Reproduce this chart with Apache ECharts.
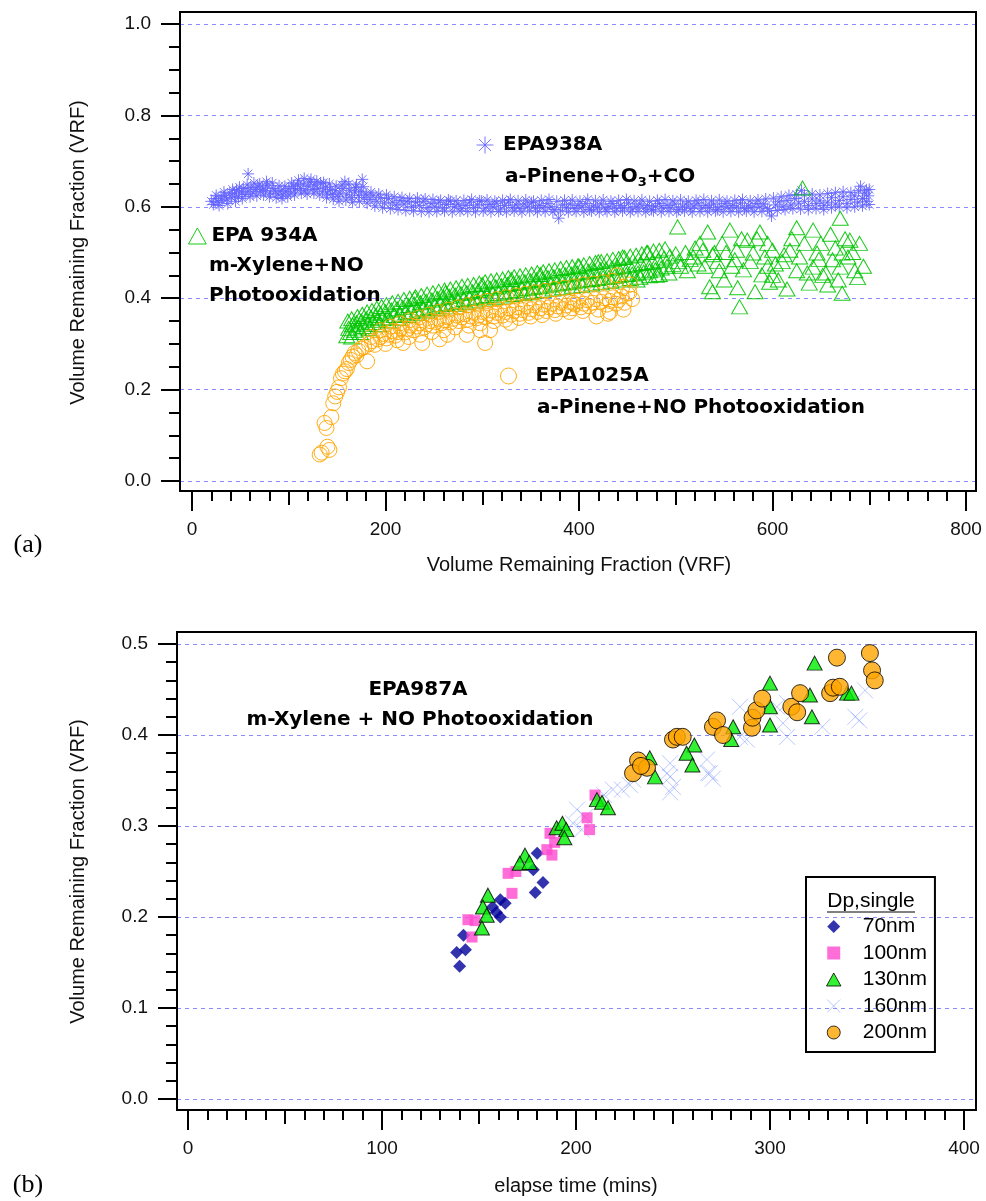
<!DOCTYPE html>
<html>
<head>
<meta charset="utf-8">
<script src="https://cdn.jsdelivr.net/npm/echarts@6/dist/echarts.min.js"></script>
<style>
  html, body { margin: 0; padding: 0; background: #fff; }
  #chart { width: 986px; height: 1201px; }
</style>
</head>
<body>
<div id="chart"></div>
<script>
// ---------------- Panel (a): volume remaining fraction, three experiments ----------------
const xTicksA = [0, 200, 400, 600, 800];
const yTicksA = [0.0, 0.2, 0.4, 0.6, 0.8, 1.0];

// EPA938A  a-Pinene + O3 + CO
const epa938a = [
  [20,0.612],[22,0.605],[24,0.618],[27,0.610],[30,0.622],[31,0.614],[34,0.625],[36,0.617],[39,0.630],[41,0.620],
  [44,0.628],[46,0.636],[48,0.622],[51,0.632],[53,0.640],[55,0.627],[58,0.672],[58,0.634],[61,0.642],[63,0.630],
  [66,0.638],[68,0.645],[71,0.633],[73,0.641],[76,0.636],[78,0.647],[81,0.630],[84,0.640],[86,0.634],[89,0.628],
  [92,0.636],[94,0.626],[97,0.633],[100,0.640],[102,0.630],[105,0.645],[107,0.637],[110,0.658],[112,0.640],[115,0.650],
  [117,0.635],[120,0.645],[122,0.654],[125,0.638],[127,0.648],[130,0.640],[133,0.652],[135,0.634],[138,0.643],[140,0.630],
  [143,0.638],[145,0.627],[148,0.635],[151,0.622],[153,0.630],[156,0.640],[158,0.655],[160,0.626],[163,0.636],[165,0.620],
  [168,0.632],[170,0.648],[172,0.625],[175,0.634],[176,0.660],[178,0.620],[180,0.628],[184,0.616],[187,0.624],[191,0.612],
  [195,0.620],[199,0.608],[203,0.618],[207,0.610],[211,0.604],[215,0.614],[219,0.606],[223,0.612],[227,0.600],[231,0.610],
  [235,0.603],[239,0.612],[243,0.598],[247,0.607],[251,0.600],[255,0.610],[259,0.597],[263,0.605],[267,0.612],[271,0.600],
  [275,0.606],[279,0.596],[283,0.603],[287,0.610],[291,0.598],[295,0.604],[299,0.612],[303,0.597],[307,0.605],[311,0.600],
  [315,0.608],[319,0.595],[323,0.603],[327,0.610],[331,0.598],[335,0.604],[339,0.596],[343,0.606],[347,0.600],[351,0.609],
  [355,0.597],[359,0.603],[363,0.598],[367,0.607],[371,0.600],[375,0.594],[379,0.575],[383,0.604],[387,0.598],[391,0.606],
  [395,0.596],[399,0.603],[403,0.599],[407,0.607],[411,0.594],[415,0.602],[419,0.598],[423,0.606],[427,0.595],[431,0.600],
  [435,0.607],[439,0.596],[443,0.603],[447,0.598],[451,0.608],[455,0.595],[459,0.600],[463,0.606],[467,0.597],[471,0.603],
  [475,0.594],[479,0.601],[483,0.607],[487,0.597],[491,0.603],[495,0.598],[499,0.606],[503,0.594],[507,0.600],[511,0.606],
  [515,0.596],[519,0.602],[523,0.608],[527,0.597],[531,0.603],[535,0.598],[539,0.606],[543,0.594],[547,0.601],[551,0.607],
  [555,0.597],[559,0.603],[563,0.599],[567,0.608],[571,0.596],[575,0.602],[579,0.598],[583,0.607],[587,0.600],[591,0.606],
  [595,0.596],[599,0.580],[603,0.604],[607,0.611],[611,0.600],[615,0.614],[619,0.604],[623,0.618],[627,0.608],[630,0.636],
  [633,0.612],[637,0.603],[641,0.617],[645,0.607],[649,0.613],[653,0.603],[657,0.610],[661,0.620],[665,0.606],[669,0.614],
  [673,0.622],[677,0.607],[681,0.616],[685,0.624],[688,0.610],[691,0.645],[693,0.618],[695,0.630],[697,0.612],[699,0.624],[700,0.638],
  [25,0.625],[28,0.603],[33,0.632],[37,0.607],[42,0.638],[45,0.612],[49,0.643],[52,0.618],[57,0.648],[60,0.622],
  [64,0.652],[67,0.624],[70,0.650],[74,0.626],[77,0.655],[80,0.622],[83,0.652],[87,0.620],[90,0.646],[93,0.618],
  [96,0.645],[99,0.622],[103,0.652],[106,0.626],[109,0.648],[113,0.630],[116,0.662],[119,0.628],[123,0.660],[126,0.630],
  [129,0.656],[132,0.626],[136,0.653],[139,0.620],[142,0.650],[146,0.617],[149,0.645],[152,0.612],[155,0.648],[159,0.615],
  [162,0.650],[166,0.610],[169,0.642],[173,0.612],[177,0.644],[181,0.608],[185,0.632],[189,0.602],[193,0.628],[197,0.598],
  [201,0.626],[205,0.596],[209,0.622],[213,0.594],[217,0.620],[221,0.592],[225,0.618],[229,0.591],[233,0.619],[237,0.590],
  [241,0.617],[245,0.589],[249,0.616],[253,0.590],[257,0.614],[261,0.591],[265,0.615],[269,0.589],[273,0.613],[277,0.591],
  [281,0.614],[285,0.590],[289,0.616],[293,0.589],[297,0.613],[301,0.591],[305,0.615],[309,0.589],[313,0.612],[317,0.590],
  [321,0.614],[325,0.589],[329,0.616],[333,0.591],[337,0.613],[341,0.589],[345,0.615],[349,0.591],[353,0.612],[357,0.589],
  [361,0.614],[365,0.590],[369,0.616],[373,0.589],[377,0.612],[381,0.591],[385,0.614],[389,0.589],[393,0.615],[397,0.590],
  [401,0.612],[405,0.589],[409,0.616],[413,0.591],[417,0.613],[421,0.589],[425,0.615],[429,0.590],[433,0.612],[437,0.589],
  [441,0.614],[445,0.591],[449,0.616],[453,0.589],[457,0.613],[461,0.590],[465,0.615],[469,0.589],[473,0.612],[477,0.591],
  [481,0.614],[485,0.589],[489,0.616],[493,0.590],[497,0.613],[501,0.589],[505,0.615],[509,0.591],[513,0.612],[517,0.589],
  [521,0.614],[525,0.590],[529,0.616],[533,0.589],[537,0.613],[541,0.591],[545,0.615],[549,0.589],[553,0.612],[557,0.590],
  [561,0.614],[565,0.589],[569,0.616],[573,0.591],[577,0.613],[581,0.589],[585,0.615],[589,0.590],[593,0.617],[597,0.591],
  [601,0.619],[605,0.592],[609,0.622],[613,0.594],[617,0.625],[621,0.596],[625,0.627],[629,0.595],[633,0.626],[637,0.594],
  [641,0.628],[645,0.596],[649,0.626],[653,0.594],[657,0.629],[661,0.598],[665,0.631],[669,0.600],[673,0.633],[677,0.598],
  [681,0.631],[685,0.600],[689,0.635],[693,0.602],[697,0.637],[700,0.605]
];

// EPA 934A  m-Xylene + NO photooxidation
const epa934a = [
  [160,0.318],[162,0.334],[164,0.325],[166,0.342],[168,0.330],[170,0.346],[172,0.335],[175,0.350],[177,0.338],[180,0.355],
  [182,0.343],[185,0.358],[187,0.347],[190,0.362],[192,0.351],[195,0.366],[197,0.355],[200,0.370],[203,0.358],[206,0.374],
  [209,0.362],[212,0.377],[215,0.365],[218,0.380],[221,0.368],[224,0.384],[227,0.371],[230,0.387],[233,0.374],[236,0.390],
  [239,0.377],[242,0.393],[245,0.380],[248,0.396],[251,0.383],[254,0.399],[257,0.386],[260,0.402],[263,0.388],[266,0.404],
  [269,0.391],[272,0.407],[275,0.394],[278,0.410],[281,0.397],[284,0.412],[287,0.399],[290,0.414],[293,0.401],[296,0.417],
  [299,0.404],[302,0.420],[305,0.406],[308,0.422],[311,0.409],[314,0.425],[317,0.410],[320,0.427],[323,0.413],[326,0.430],
  [329,0.415],[332,0.432],[335,0.417],[338,0.434],[341,0.420],[344,0.436],[347,0.421],[350,0.438],[353,0.424],[356,0.440],
  [359,0.425],[362,0.442],[365,0.427],[368,0.445],[371,0.429],[374,0.447],[377,0.431],[380,0.449],[383,0.433],[386,0.451],
  [389,0.434],[392,0.453],[395,0.436],[398,0.455],[401,0.438],[404,0.456],[407,0.440],[410,0.459],[413,0.441],[416,0.460],
  [419,0.443],[422,0.462],[425,0.445],[428,0.464],[431,0.446],[434,0.466],[437,0.448],[440,0.468],[443,0.450],[446,0.470],
  [449,0.452],[452,0.472],[455,0.453],[458,0.474],[461,0.455],[464,0.476],[467,0.457],[470,0.478],[473,0.460],[476,0.480],
  [479,0.462],[482,0.483],[485,0.466],[488,0.488],[491,0.470],[494,0.492],[497,0.474],[500,0.497],
  [230,0.400],[262,0.412],[300,0.430],[330,0.441],[360,0.452],[400,0.470],[420,0.480],[445,0.490],[470,0.500],[460,0.440],
  [480,0.450],[350,0.412],
  [161,0.350],[165,0.355],[171,0.360],[176,0.365],[181,0.370],[186,0.373],[191,0.378],[196,0.382],[201,0.386],[207,0.390],
  [213,0.393],[219,0.397],[225,0.400],[231,0.403],[237,0.406],[243,0.409],[249,0.412],[255,0.415],[261,0.418],[267,0.420],
  [273,0.423],[279,0.426],[285,0.428],[291,0.430],[297,0.433],[303,0.436],[309,0.438],[315,0.440],[321,0.442],[327,0.445],
  [333,0.447],[339,0.449],[345,0.451],[351,0.453],[357,0.456],[363,0.458],[369,0.460],[375,0.462],[381,0.465],[387,0.467],
  [393,0.469],[399,0.471],[405,0.473],[411,0.476],[417,0.478],[423,0.480],[429,0.482],[435,0.485],[441,0.487],[447,0.489],
  [453,0.492],[459,0.494],[465,0.497],[471,0.500],[477,0.503],[483,0.505],[489,0.508],
  [165,0.315],[174,0.325],[183,0.333],[193,0.342],[203,0.350],[213,0.356],[223,0.362],[233,0.367],[243,0.372],[253,0.377],
  [263,0.381],[273,0.386],[283,0.390],[293,0.394],[303,0.398],[313,0.401],[323,0.405],[333,0.408],[343,0.411],[353,0.414],
  [363,0.417],[373,0.420],[383,0.423],[393,0.426],[403,0.428],[413,0.431],[423,0.434],[433,0.437],[443,0.440],[453,0.443],
  [463,0.446],[473,0.449],[483,0.452],[493,0.455],
  [505,0.470],[510,0.500],[515,0.485],[520,0.510],[525,0.520],[502,0.556],[533,0.545],[556,0.549],[574,0.527],[587,0.545],
  [625,0.554],[631,0.641],[670,0.575],[680,0.527],[538,0.495],[561,0.484],[580,0.499],[600,0.505],[618,0.505],[642,0.549],
  [646,0.499],[662,0.484],[672,0.499],[535,0.425],[538,0.414],[564,0.423],[566,0.381],[582,0.414],[570,0.462],[589,0.451],
  [606,0.440],[638,0.433],[657,0.429],[672,0.411],[642,0.468],[670,0.468],[545,0.460],[550,0.440],[595,0.470],[610,0.480],
  [625,0.460],[650,0.520],[660,0.540],[690,0.520],[685,0.460],[655,0.455],[615,0.420],[548,0.520],[530,0.470],[595,0.520],
  [620,0.530],[678,0.490],[665,0.510],[540,0.500],[600,0.450],
  [503,0.480],[512,0.460],[518,0.490],[523,0.475],[528,0.505],[543,0.480],[552,0.500],[558,0.470],[563,0.505],[568,0.530],
  [577,0.480],[584,0.530],[592,0.490],[597,0.435],[603,0.475],[612,0.495],[628,0.490],[633,0.520],[636,0.455],[648,0.485],
  [652,0.450],[668,0.440],[675,0.530],[683,0.500],[688,0.445],[694,0.470]
];

// EPA1025A  a-Pinene + NO photooxidation
const epa1025a = [
  [132,0.058],[134,0.062],[137,0.127],[139,0.116],[140,0.075],[142,0.068],[144,0.140],[146,0.170],[148,0.185],[150,0.195],
  [152,0.205],[154,0.225],[156,0.235],[158,0.240],[160,0.245],[162,0.258],[164,0.265],[166,0.272],[168,0.280],[170,0.275],
  [172,0.285],[175,0.290],[178,0.293],[181,0.262],[183,0.300],[186,0.306],[189,0.298],[192,0.310],[195,0.315],[198,0.322],
  [201,0.312],[204,0.320],[207,0.328],[210,0.318],[213,0.326],[216,0.334],[218,0.302],[220,0.325],[223,0.333],[226,0.340],
  [229,0.330],[232,0.338],[235,0.345],[238,0.302],[240,0.336],[243,0.343],[246,0.350],[249,0.340],[252,0.348],[255,0.355],
  [256,0.310],[258,0.345],[261,0.352],[264,0.320],[264,0.358],[267,0.347],[270,0.355],[273,0.362],[276,0.350],[279,0.358],
  [282,0.365],[284,0.320],[285,0.353],[288,0.360],[291,0.368],[294,0.356],[297,0.363],[298,0.330],[300,0.370],[303,0.302],
  [303,0.358],[306,0.366],[308,0.330],[309,0.373],[312,0.360],[315,0.368],[318,0.375],[321,0.362],[324,0.370],[327,0.378],
  [329,0.346],[330,0.364],[333,0.372],[336,0.380],[339,0.366],[342,0.374],[345,0.382],[348,0.368],[351,0.376],[354,0.384],
  [357,0.370],[360,0.378],[363,0.386],[366,0.372],[369,0.380],[372,0.388],[375,0.374],[378,0.382],[381,0.390],[384,0.376],
  [387,0.384],[390,0.392],[393,0.378],[394,0.390],[396,0.386],[399,0.394],[402,0.380],[405,0.388],[408,0.396],[411,0.382],
  [414,0.390],[417,0.398],[420,0.375],[423,0.392],[426,0.400],[429,0.386],[430,0.366],[432,0.394],[435,0.402],[438,0.388],
  [439,0.450],[441,0.396],[444,0.404],[447,0.390],[450,0.410],[452,0.412],[455,0.398],
  [185,0.315],[195,0.330],[205,0.338],[215,0.345],[225,0.352],[235,0.358],[245,0.364],[255,0.370],[265,0.375],[275,0.380],
  [285,0.385],[295,0.390],[305,0.394],[315,0.398],[325,0.402],[335,0.406],[345,0.410],[355,0.413],[365,0.416],[375,0.420],
  [385,0.423],[395,0.426],[405,0.430],[415,0.432],[425,0.435],[435,0.438],[445,0.425],[453,0.430],
  [200,0.300],[212,0.308],[224,0.315],[236,0.320],[248,0.326],[260,0.330],[272,0.336],[286,0.340],[298,0.345],[312,0.350],
  [324,0.353],[338,0.357],[350,0.360],[362,0.363],[376,0.366],[390,0.370],[404,0.372],[418,0.360],[432,0.370],[446,0.375]
];

// ---------------- Panel (b): EPA987A, volume remaining fraction by particle size ----------------
const xTicksB = [0, 100, 200, 300, 400];
const yTicksB = [0.0, 0.1, 0.2, 0.3, 0.4, 0.5];
const sizeNames = ['70nm', '100nm', '130nm', '160nm', '200nm'];

const dp70 = [[140,0.146],[138.5,0.161],[143,0.164],[142,0.180],[157,0.211],[161,0.219],[163.5,0.215],[161,0.200],
  [159,0.205],[179,0.227],[183,0.238],[178,0.252],[180,0.270]];
const dp100 = [[144.3,0.197],[146.4,0.178],[148,0.196],[165,0.248],[167,0.226],[169,0.250],[185,0.274],[187.6,0.268],
  [186.6,0.292],[189,0.282],[205.7,0.309],[207,0.296],[209.8,0.334]];
const dp130 = [[154.6,0.224],[152,0.211],[154,0.202],[151.5,0.188],[173.7,0.268],[171,0.259],[176,0.260],[190,0.298],
  [193,0.303],[195,0.296],[194,0.287],[210.8,0.329],[213.4,0.326],[216.5,0.320],[238,0.375],[240.7,0.354],[261,0.389],
  [257,0.380],[260,0.367],[281,0.409],[280,0.395],[300,0.457],[300,0.431],[300,0.411],[320.6,0.444],[321.6,0.420],
  [323,0.479],[339.7,0.446],[342,0.446]];
const dp160 = [[198.5,0.303],[200.5,0.318],[203,0.296],[204.6,0.310],[212,0.329],[214.5,0.334],[219,0.340],[223.7,0.340],
  [227.8,0.345],[229.4,0.351],[247,0.358],[248.5,0.369],[248.5,0.337],[248.5,0.354],[250,0.343],[267.5,0.373],[268,0.358],
  [269,0.358],[270.5,0.352],[284.5,0.398],[284.5,0.431],[288,0.395],[303.6,0.431],[306.7,0.413],[308.8,0.398],[308.8,0.435],
  [327,0.409],[346,0.416],[349,0.449],[344,0.420]];
const dp200 = [[232,0.372],[229.4,0.358],[236.6,0.364],[233.5,0.366],[250,0.395],[252,0.398],[255,0.398],[270.6,0.409],
  [272.7,0.416],[275.8,0.400],[290.7,0.408],[291,0.419],[293,0.427],[296,0.440],[311,0.431],[314,0.425],[315.5,0.446],
  [331,0.446],[332.5,0.452],[336,0.453],[334.5,0.485],[351.5,0.490],[352.6,0.471],[354,0.460]];

// ---------------- styling ----------------
const SANS = 'Liberation Sans, Arial, sans-serif';
const BOLD = 'DejaVu Sans, sans-serif';
const BLUE = '#5f5fff', GREEN = '#00c400', ORANGE = '#ffa500';
const ASTER = 'path://M10,0L10,20M0,10L20,10M3,3L17,17M3,17L17,3';
const CROSS = 'path://M0,0L20,20M0,20L20,0';
const DIAMOND = 'path://M10,0L20,10L10,20L0,10Z';
const SQUARE = 'path://M0,0L20,0L20,20L0,20Z';
const TRI = 'path://M10,0L20,18L0,18Z';

// frame rectangles (plot borders) and inner data areas
const frameA = { x: 180, y: 12, w: 796, h: 479 };
const dataA = { x: 192, y: 24, w: 774, h: 457 };
const frameB = { x: 177, y: 632, w: 799, h: 478 };
const dataB = { x: 188, y: 644, w: 776, h: 455 };

const tickLine = { color: '#000', width: 2 };
const gridDash = { color: '#8c8cff', width: 1, type: [4, 4] };
const tickLabel = { fontSize: 19, fontFamily: SANS, color: '#111' };
const titleText = { fontSize: 20, fontFamily: SANS, color: '#111' };
const annoText = { fontFamily: BOLD, fontWeight: 'bold', fontSize: 20, color: '#000' };

function gridOf(r) { return { left: r.x, top: r.y, width: r.w, height: r.h, show: false }; }

// value range of a frame, extended past the data range so grid lines reach the frame edges
function frameRange(frame, data, lo, hi) {
  const perPx = (hi - lo) / data.h;
  return [lo - (frame.y + frame.h - data.y - data.h) * perPx, hi + (data.y - frame.y) * perPx];
}
const fA = frameRange(frameA, dataA, 0, 1);
const fB = frameRange(frameB, dataB, 0, 0.5);
const offXA = (frameA.y + frameA.h) - (dataA.y + dataA.h);
const offXB = (frameB.y + frameB.h) - (dataB.y + dataB.h);

function hiddenX(gi) { return { gridIndex: gi, type: 'value', min: 0, max: 1, show: false }; }
function gridLinesY(gi, r, step) {
  return { gridIndex: gi, type: 'value', min: r[0], max: r[1], minInterval: step, maxInterval: step,
    axisLine: { show: false, onZero: false }, axisTick: { show: false }, axisLabel: { show: false },
    splitLine: { show: true, lineStyle: gridDash } };
}
function xMain(gi, ticks, off, minorSplit, name, gap) {
  return { gridIndex: gi, type: 'value', min: ticks[0], max: ticks[ticks.length - 1], interval: ticks[1] - ticks[0],
    position: 'bottom', offset: off,
    axisLine: { show: false, onZero: false },
    axisTick: { show: true, inside: false, length: 20, lineStyle: tickLine },
    minorTick: { show: true, splitNumber: minorSplit, length: 10, lineStyle: tickLine },
    splitLine: { show: false },
    axisLabel: Object.assign({ margin: 29 }, tickLabel),
    name: name, nameLocation: 'middle', nameGap: gap, nameTextStyle: titleText };
}
function xMid(gi, ticks, off) {
  return { gridIndex: gi, type: 'value', min: ticks[0], max: ticks[ticks.length - 1],
    interval: (ticks[1] - ticks[0]) / 2, position: 'bottom', offset: off,
    axisLine: { show: false, onZero: false },
    axisTick: { show: true, inside: false, length: 14, lineStyle: tickLine },
    axisLabel: { show: false }, splitLine: { show: false } };
}
function yMain(gi, ticks, off, minorSplit, gap) {
  return { gridIndex: gi, type: 'value', min: ticks[0], max: ticks[ticks.length - 1], interval: ticks[1] - ticks[0],
    position: 'left', offset: off,
    axisLine: { show: false, onZero: false },
    axisTick: { show: true, inside: false, length: 19, lineStyle: tickLine },
    minorTick: { show: true, splitNumber: minorSplit, length: 11, lineStyle: tickLine },
    splitLine: { show: false },
    axisLabel: Object.assign({ margin: 29, formatter: v => v.toFixed(1) }, tickLabel),
    name: 'Volume Remaining Fraction (VRF)', nameLocation: 'middle', nameGap: gap, nameTextStyle: titleText };
}

function hollow(color) { return { color: 'transparent', borderColor: color, borderWidth: 1 }; }
const crossStyle = { color: 'transparent', borderColor: 'rgba(110,140,255,0.6)', borderWidth: 1 };

const chart = echarts.init(document.getElementById('chart'), null, { renderer: 'canvas' });

chart.setOption({
  animation: false,
  backgroundColor: '#fff',
  textStyle: { fontFamily: SANS },
  grid: [gridOf(frameA), gridOf(dataA), gridOf(frameB), gridOf(dataB)],
  xAxis: [
    hiddenX(0),
    xMain(1, xTicksA, offXA, 10, 'Volume Remaining Fraction (VRF)', 64),
    xMid(1, xTicksA, offXA),
    hiddenX(2),
    xMain(3, xTicksB, offXB, 10, 'elapse time (mins)', 66),
    xMid(3, xTicksB, offXB)
  ],
  yAxis: [
    gridLinesY(0, fA, yTicksA[1] - yTicksA[0]),
    yMain(1, yTicksA, dataA.x - frameA.x, 4, 92),
    gridLinesY(2, fB, yTicksB[1] - yTicksB[0]),
    yMain(3, yTicksB, dataB.x - frameB.x, 5, 89)
  ],
  legend: [
    { data: [{ name: 'EPA938A', icon: ASTER, itemStyle: hollow(BLUE) }], left: 476, top: 135,
      itemWidth: 26, itemHeight: 17, padding: 0, selectedMode: false, textStyle: annoText },
    { data: [{ name: 'EPA 934A', icon: TRI, itemStyle: hollow(GREEN) }], left: 188, top: 226,
      itemWidth: 18, itemHeight: 16, padding: 0, selectedMode: false, textStyle: annoText },
    { data: [{ name: 'EPA1025A', icon: 'circle', itemStyle: hollow(ORANGE) }], left: 500, top: 366,
      itemWidth: 44, itemHeight: 16, padding: 0, selectedMode: false, textStyle: annoText },
    { data: [
        { name: '70nm', icon: DIAMOND, itemStyle: { color: '#000099', borderWidth: 0 } },
        { name: '100nm', icon: SQUARE, itemStyle: { color: '#ff48d0', borderWidth: 0 } },
        { name: '130nm', icon: TRI, itemStyle: { color: '#00ee00', borderColor: '#000', borderWidth: 1 } },
        { name: '160nm', icon: CROSS, itemStyle: crossStyle },
        { name: '200nm', icon: 'circle', itemStyle: { color: '#ffa500', borderColor: '#000', borderWidth: 1 } }
      ],
      orient: 'vertical', left: 806, top: 877, padding: [39, 8, 9, 20],
      itemWidth: 48, itemHeight: 13, itemGap: 5.5, selectedMode: false,
      borderColor: '#000', borderWidth: 2,
      textStyle: { fontSize: 21, fontFamily: SANS, color: '#000' } }
  ],
  series: [
    { name: 'EPA938A', type: 'scatter', xAxisIndex: 1, yAxisIndex: 1, data: epa938a,
      symbol: ASTER, symbolSize: 12, itemStyle: Object.assign({ opacity: 0.85 }, hollow(BLUE)) },
    { name: 'EPA 934A', type: 'scatter', xAxisIndex: 1, yAxisIndex: 1, data: epa934a,
      symbol: 'triangle', symbolSize: [16, 14], itemStyle: Object.assign({ opacity: 0.9 }, hollow(GREEN)) },
    { name: 'EPA1025A', type: 'scatter', xAxisIndex: 1, yAxisIndex: 1, data: epa1025a,
      symbol: 'circle', symbolSize: 15, itemStyle: Object.assign({ opacity: 0.9 }, hollow(ORANGE)) },

    { name: sizeNames[3], type: 'scatter', xAxisIndex: 4, yAxisIndex: 3, data: dp160,
      symbol: CROSS, symbolSize: 16, itemStyle: crossStyle },
    { name: sizeNames[0], type: 'scatter', xAxisIndex: 4, yAxisIndex: 3, data: dp70,
      symbol: 'diamond', symbolSize: 13, itemStyle: { color: '#000099' } },
    { name: sizeNames[1], type: 'scatter', xAxisIndex: 4, yAxisIndex: 3, data: dp100,
      symbol: 'rect', symbolSize: 11, itemStyle: { color: '#ff48d0' } },
    { name: sizeNames[2], type: 'scatter', xAxisIndex: 4, yAxisIndex: 3, data: dp130,
      symbol: 'triangle', symbolSize: [15, 14], itemStyle: { color: '#00ee00', borderColor: '#000', borderWidth: 1 } },
    { name: sizeNames[4], type: 'scatter', xAxisIndex: 4, yAxisIndex: 3, data: dp200,
      symbol: 'circle', symbolSize: 17, itemStyle: { color: '#ffa500', borderColor: '#000', borderWidth: 1 } }
  ],
  graphic: [
    // plot frames
    { type: 'rect', z: 100, shape: { x: frameA.x, y: frameA.y, width: frameA.w, height: frameA.h },
      style: { fill: 'none', stroke: '#000', lineWidth: 2 } },
    { type: 'rect', z: 100, shape: { x: frameB.x, y: frameB.y, width: frameB.w, height: frameB.h },
      style: { fill: 'none', stroke: '#000', lineWidth: 2 } },
    // second lines of the experiment captions
    { type: 'text', x: 505, y: 177, z: 50, style: {
        text: '{n|a-Pinene+O}{s|3}{n|+CO}', verticalAlign: 'middle', align: 'left',
        rich: { n: { fontFamily: BOLD, fontWeight: 'bold', fontSize: 20, lineHeight: 24 },
                s: { fontFamily: BOLD, fontWeight: 'bold', fontSize: 13, lineHeight: 13, verticalAlign: 'bottom' } } } },
    { type: 'text', x: 209, y: 266, z: 50, style: { text: 'm-Xylene+NO', font: 'bold 20px DejaVu Sans', verticalAlign: 'middle', fill: '#000' } },
    { type: 'text', x: 209, y: 296, z: 50, style: { text: 'Photooxidation', font: 'bold 20px DejaVu Sans', verticalAlign: 'middle', fill: '#000' } },
    { type: 'text', x: 537, y: 408, z: 50, style: { text: 'a-Pinene+NO Photooxidation', font: 'bold 20px DejaVu Sans', verticalAlign: 'middle', fill: '#000' } },
    { type: 'text', x: 418, y: 690, z: 50, style: { text: 'EPA987A', font: 'bold 20px DejaVu Sans', align: 'center', verticalAlign: 'middle', fill: '#000' } },
    { type: 'text', x: 420, y: 720, z: 50, style: { text: 'm-Xylene + NO Photooxidation', font: 'bold 20px DejaVu Sans', align: 'center', verticalAlign: 'middle', fill: '#000' } },
    // legend heading
    { type: 'text', x: 871, y: 901, z: 50, style: { text: 'Dp,single', font: '21px Liberation Sans', align: 'center', verticalAlign: 'middle', fill: '#000' } },
    { type: 'line', z: 50, shape: { x1: 827, y1: 912, x2: 915, y2: 912 }, style: { stroke: '#000', lineWidth: 1 } },
    // panel tags
    { type: 'text', x: 28, y: 545, style: { text: '(a)', font: '26px Liberation Serif', align: 'center', verticalAlign: 'middle', fill: '#000' } },
    { type: 'text', x: 28, y: 1185, style: { text: '(b)', font: '26px Liberation Serif', align: 'center', verticalAlign: 'middle', fill: '#000' } }
  ]
});
</script>
</body>
</html>
